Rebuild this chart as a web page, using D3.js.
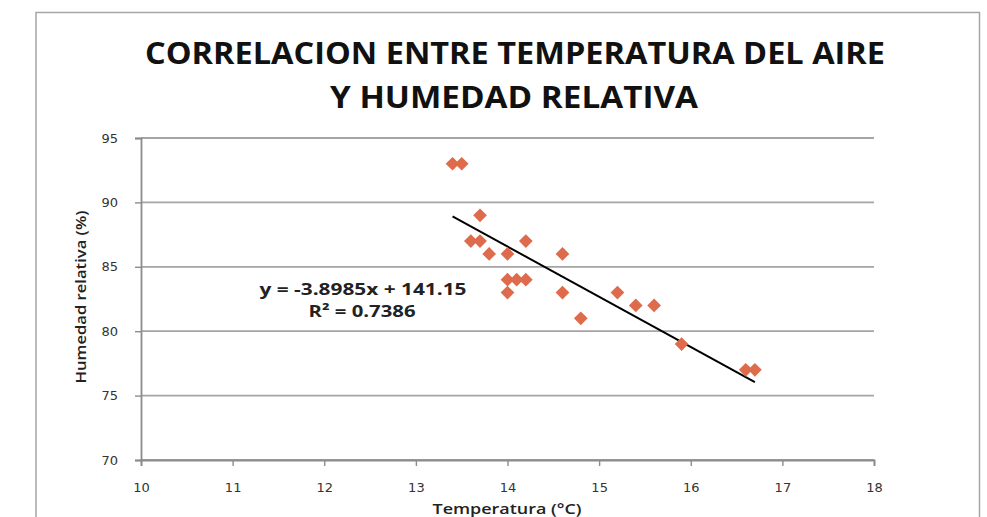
<!DOCTYPE html>
<html>
<head>
<meta charset="utf-8">
<script src="https://cdn.jsdelivr.net/npm/d3@7"></script>
<style>
  body { margin: 0; background: #fff; }
  svg { display: block; font-family: "Open Sans", "Liberation Sans", sans-serif; }
</style>
</head>
<body>
<div id="container"></div>
<script>
// data
const temperatura = [13.4, 13.5, 13.7, 13.6, 13.7, 14.2, 13.8, 14.0, 14.6, 14.0, 14.1, 14.2, 14.0, 14.6, 14.8, 15.2, 15.4, 15.6, 15.9, 16.6, 16.7];
const humedad     = [93,   93,   89,   87,   87,   87,   86,   86,   86,   84,   84,   84,   83,   83,   81,   83,   82,   82,   79,   77,   77];
const xTicks = [10, 11, 12, 13, 14, 15, 16, 17, 18];
const yTicks = [70, 75, 80, 85, 90, 95];
const pendiente = -3.8985, intercepto = 141.15, r2 = 0.7386;

const width = 987, height = 517;

const svg = d3.select("#container").append("svg")
  .attr("width", width).attr("height", height);

// chart frame
svg.append("path")
  .attr("d", "M36,517 V12.5 H979.5 V517")
  .attr("fill", "none")
  .attr("stroke", "#a6a6a6")
  .attr("stroke-width", 1.5);

const x = d3.scaleLinear().domain([10, 18]).range([141, 874]);
const y = d3.scaleLinear().domain([70, 95]).range([460, 138]);

// gridlines
svg.selectAll("line.grid")
  .data(yTicks)
  .join("line")
  .attr("class", "grid")
  .attr("x1", x(10)).attr("x2", x(18))
  .attr("y1", d => y(d)).attr("y2", d => y(d))
  .attr("stroke", "#a5a5a5")
  .attr("stroke-width", 1.8);

// axes
const xAxis = svg.append("g")
  .attr("transform", `translate(0,${y(70)})`)
  .call(d3.axisBottom(x).tickValues(xTicks).tickSize(6).tickPadding(17));
const yAxis = svg.append("g")
  .attr("transform", `translate(${x(10)},0)`)
  .call(d3.axisLeft(y).tickValues(yTicks).tickSize(6).tickPadding(17));

[xAxis, yAxis].forEach(g => {
  g.select(".domain").attr("stroke", "#8c8c8c").attr("stroke-width", 1.8);
  g.selectAll(".tick line").attr("stroke", "#8c8c8c").attr("stroke-width", 1.4);
  g.selectAll(".tick text")
    .attr("fill", "#333")
    .style("font-size", "13px")
    .style("font-family", "'DejaVu Sans', sans-serif");
});

// trend line
const tx = [d3.min(temperatura), d3.max(temperatura)];
svg.append("line")
  .attr("x1", x(tx[0])).attr("y1", y(pendiente * tx[0] + intercepto))
  .attr("x2", x(tx[1])).attr("y2", y(pendiente * tx[1] + intercepto))
  .attr("stroke", "#000")
  .attr("stroke-width", 2);

// points (diamonds)
const diamond = d3.symbol().type(d3.symbolDiamond2).size(120);
svg.selectAll("path.pt")
  .data(temperatura.map((t, i) => [t, humedad[i]]))
  .join("path")
  .attr("class", "pt")
  .attr("d", diamond)
  .attr("transform", d => `translate(${x(d[0])},${y(d[1])})`)
  .attr("fill", "#dd6b4c");

// titles
const title = svg.append("g")
  .attr("text-anchor", "middle")
  .attr("font-weight", "bold")
  .attr("fill", "#111")
  .style("font-size", "30px");
title.append("text")
  .attr("x", 515).attr("y", 64)
  .attr("textLength", 740).attr("lengthAdjust", "spacingAndGlyphs")
  .text("CORRELACION ENTRE TEMPERATURA DEL AIRE");
title.append("text")
  .attr("x", 514).attr("y", 108)
  .attr("textLength", 368).attr("lengthAdjust", "spacingAndGlyphs")
  .text("Y HUMEDAD RELATIVA");

svg.append("text")
  .attr("x", 507).attr("y", 514)
  .attr("text-anchor", "middle")
  .attr("font-weight", "600")
  .attr("fill", "#222")
  .attr("textLength", 149).attr("lengthAdjust", "spacingAndGlyphs")
  .style("font-size", "15px")
  .text("Temperatura (°C)");

svg.append("text")
  .attr("transform", "translate(86,297) rotate(-90)")
  .attr("text-anchor", "middle")
  .attr("font-weight", "600")
  .attr("fill", "#222")
  .attr("textLength", 173).attr("lengthAdjust", "spacingAndGlyphs")
  .style("font-size", "15px")
  .text("Humedad relativa (%)");

// equation label
const eq = svg.append("g")
  .attr("text-anchor", "middle")
  .attr("font-weight", "bold")
  .attr("fill", "#222")
  .style("font-size", "16px");
eq.append("text")
  .attr("x", 363).attr("y", 295)
  .attr("textLength", 207).attr("lengthAdjust", "spacingAndGlyphs")
  .text(`y = ${pendiente}x + ${intercepto}`);
eq.append("text")
  .attr("x", 362).attr("y", 317)
  .attr("textLength", 107).attr("lengthAdjust", "spacingAndGlyphs")
  .text(`R² = ${r2}`);
</script>
</body>
</html>
